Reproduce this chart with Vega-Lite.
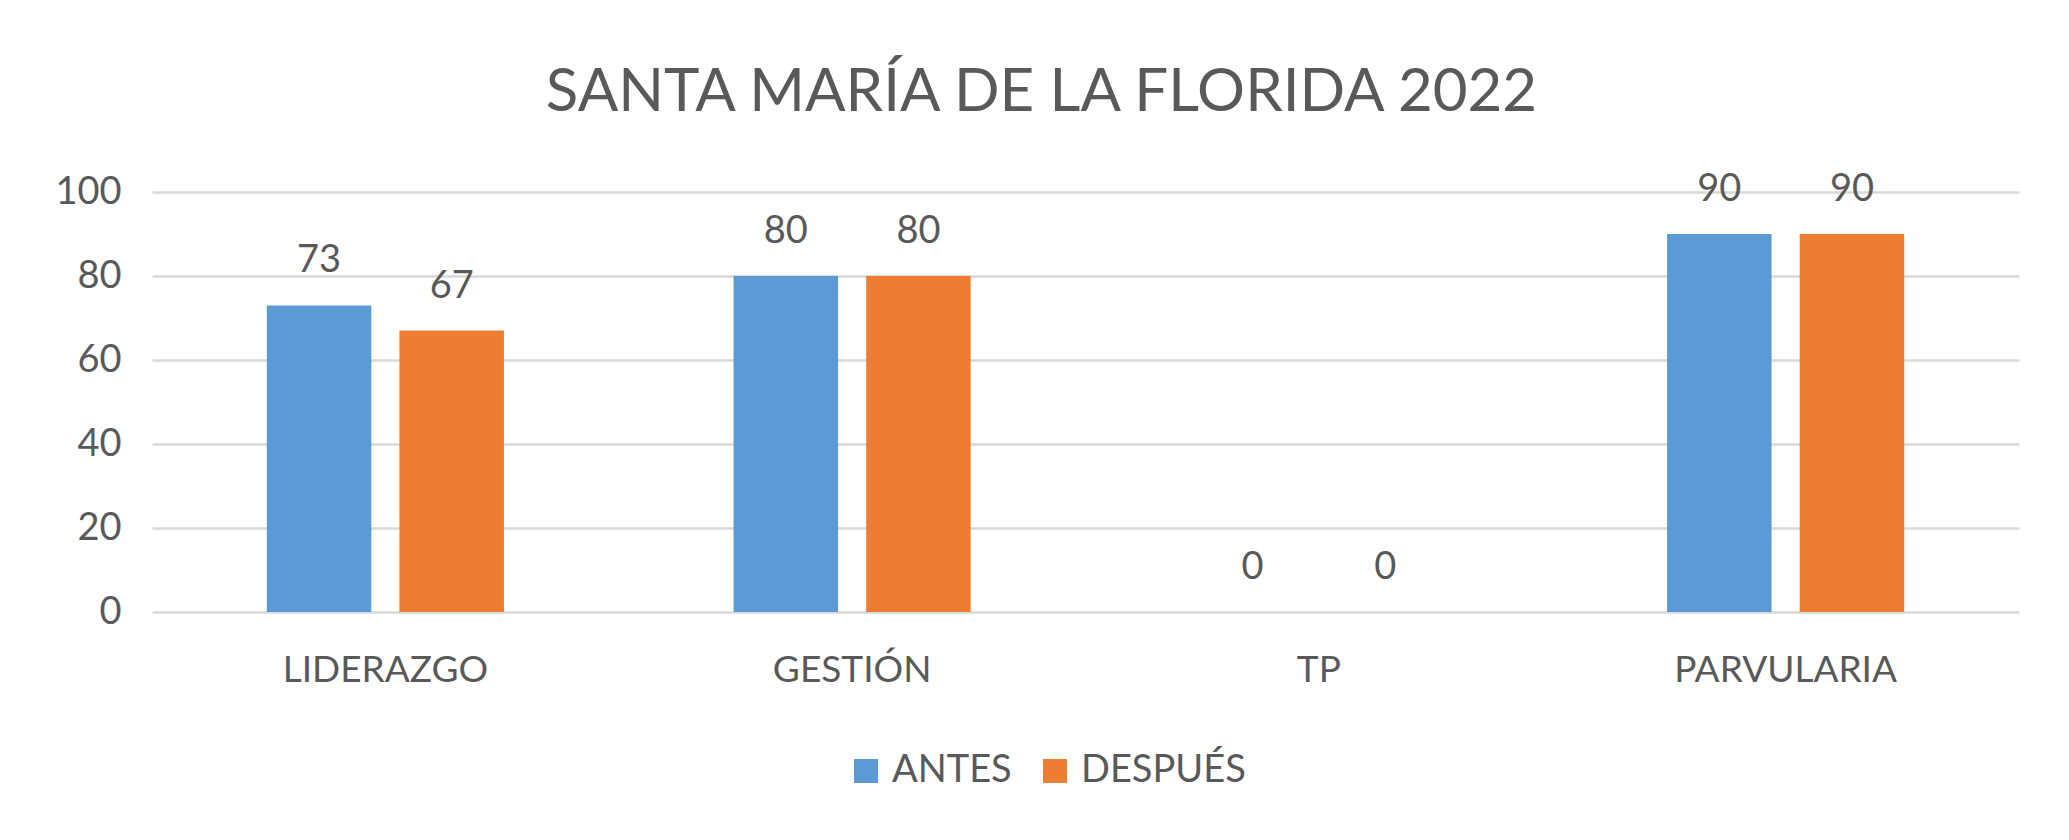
{
  "$schema": "https://vega.github.io/schema/vega-lite/v6.json",
  "autosize": {"type": "none"},
  "width": 1867,
  "height": 420,
  "padding": {"left": 152, "top": 192, "right": 50, "bottom": 228},
  "background": "white",
  "title": {
    "text": "SANTA MARÍA DE LA FLORIDA 2022",
    "font": "Lato",
    "fontSize": 60,
    "fontWeight": "normal",
    "color": "#595959",
    "anchor": "middle",
    "frame": "group",
    "baseline": "alphabetic",
    "dx": -44,
    "offset": 0
  },
  "data": {
    "values": [
      {"categoria": "LIDERAZGO", "serie": "ANTES", "valor": 73},
      {"categoria": "LIDERAZGO", "serie": "DESPUÉS", "valor": 67},
      {"categoria": "GESTIÓN", "serie": "ANTES", "valor": 80},
      {"categoria": "GESTIÓN", "serie": "DESPUÉS", "valor": 80},
      {"categoria": "TP", "serie": "ANTES", "valor": 0},
      {"categoria": "TP", "serie": "DESPUÉS", "valor": 0},
      {"categoria": "PARVULARIA", "serie": "ANTES", "valor": 90},
      {"categoria": "PARVULARIA", "serie": "DESPUÉS", "valor": 90}
    ]
  },
  "encoding": {
    "x": {
      "field": "categoria",
      "type": "nominal",
      "sort": ["LIDERAZGO", "GESTIÓN", "TP", "PARVULARIA"],
      "scale": {"paddingInner": 0.492, "paddingOuter": 0.246},
      "axis": {
        "title": null,
        "labelAngle": 0,
        "labelFont": "Lato",
        "labelFontSize": 37,
        "labelColor": "#595959",
        "labelPadding": 40,
        "labelLimit": 0,
        "ticks": false,
        "domain": false,
        "grid": false
      }
    },
    "xOffset": {
      "field": "serie",
      "type": "nominal",
      "sort": ["ANTES", "DESPUÉS"],
      "scale": {"paddingInner": 0.212, "paddingOuter": 0}
    },
    "y": {
      "field": "valor",
      "type": "quantitative",
      "scale": {"domain": [0, 100], "nice": false},
      "axis": {
        "title": null,
        "values": [0, 20, 40, 60, 80, 100],
        "labelFont": "Lato",
        "labelFontSize": 38,
        "labelColor": "#595959",
        "labelPadding": 31,
        "ticks": false,
        "domain": false,
        "grid": true,
        "gridColor": "#D9D9D9",
        "gridWidth": 2.5
      }
    }
  },
  "layer": [
    {
      "mark": {"type": "bar"},
      "encoding": {
        "color": {
          "field": "serie",
          "type": "nominal",
          "sort": ["ANTES", "DESPUÉS"],
          "scale": {"domain": ["ANTES", "DESPUÉS"], "range": ["#5B9BD5", "#ED7D31"]},
          "legend": {
            "title": null,
            "orient": "none",
            "direction": "horizontal",
            "legendX": 695,
            "legendY": 560,
            "symbolType": "square",
            "symbolSize": 576,
            "symbolStrokeWidth": 0,
            "labelFont": "Lato",
            "labelFontSize": 38,
            "labelColor": "#595959",
            "labelOffset": 7,
            "labelLimit": 500,
            "columnPadding": 24
          }
        }
      }
    },
    {
      "mark": {
        "type": "text",
        "baseline": "alphabetic",
        "dy": -33,
        "font": "Lato",
        "fontSize": 38,
        "color": "#595959"
      },
      "encoding": {
        "text": {"field": "valor", "type": "quantitative"}
      }
    }
  ],
  "config": {
    "view": {"stroke": null}
  }
}
